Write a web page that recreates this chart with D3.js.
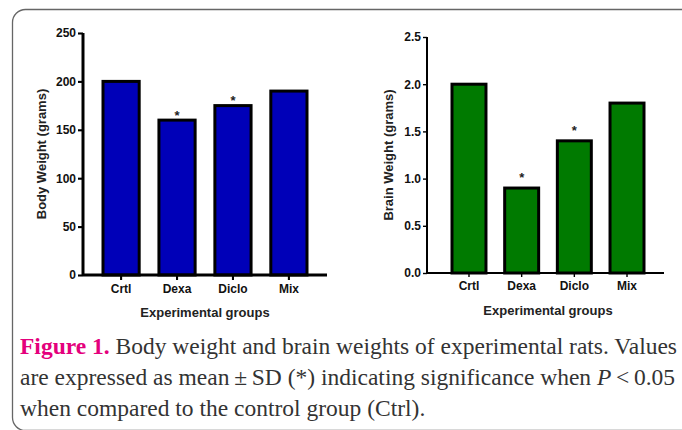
<!DOCTYPE html>
<html><head><meta charset="utf-8">
<script src="https://cdn.jsdelivr.net/npm/d3@7"></script>
<style>html,body{margin:0;padding:0;background:#fff;overflow:hidden}</style>
</head><body>
<svg id="c" width="682" height="430"></svg>
<script>
const groups = ["Crtl","Dexa","Diclo","Mix"];
const bodyWeight = [200,160,175,190];
const brainWeight = [2.0,0.9,1.4,1.8];
const bodySig = [false,true,true,false];
const brainSig = [false,true,true,false];
const bodyTicks = [0,50,100,150,200,250];
const brainTicks = [0,0.5,1.0,1.5,2.0,2.5];

const svg = d3.select("#c");
// frame
svg.append("rect").attr("x",12.5).attr("y",9.5).attr("width",700).attr("height",421)
  .attr("rx",13).attr("fill","none").attr("stroke","#666").attr("stroke-width",1.3);

function panel(o){
  const g = svg.append("g");
  const x = d3.scaleBand().domain(groups).range([o.b0,o.b1]).paddingInner(o.pad).paddingOuter(0);
  const y = d3.scaleLinear().domain([0,o.max]).range([o.y0,o.y1]);
  // bars
  g.selectAll("rect.bar").data(o.values).join("rect")
    .attr("x",(d,i)=>x(groups[i])).attr("width",x.bandwidth())
    .attr("y",d=>y(d)).attr("height",d=>y(0)-y(d))
    .attr("fill",o.fill).attr("stroke","#000").attr("stroke-width",3);
  // y axis
  const ya = g.append("g").attr("transform",`translate(${o.ax},0)`)
    .call(d3.axisLeft(y).tickValues(o.ticks).tickSize(o.tick).tickPadding(2).tickFormat(o.fmt));
  ya.select(".domain").attr("stroke-width",o.aw).attr("d",`M0,${o.y0}V${o.y1}`);
  ya.selectAll(".tick line").attr("stroke-width",o.aw*0.7);
  ya.selectAll("text").attr("font-family","Liberation Sans, Arial, sans-serif")
    .attr("font-weight","bold").attr("font-size",12).attr("fill","#111");
  // x axis
  const xa = g.append("g").attr("transform",`translate(0,${o.y0})`)
    .call(d3.axisBottom(x).tickSize(o.tick).tickPadding(4));
  xa.select(".domain").remove();
  xa.selectAll(".tick line").attr("stroke-width",o.aw*0.7);
  xa.selectAll("text").attr("font-family","Liberation Sans, Arial, sans-serif")
    .attr("font-weight","bold").attr("font-size",12).attr("fill","#111");
  g.append("line").attr("x1",o.ax).attr("x2",o.xend).attr("y1",o.y0).attr("y2",o.y0)
    .attr("stroke","#000").attr("stroke-width",o.aw);
  // asterisks
  g.selectAll("text.ast").data(o.values.map((v,i)=>({v,i})).filter(d=>o.sig[d.i])).join("text")
    .attr("x",d=>x(groups[d.i])+x.bandwidth()/2).attr("y",d=>y(d.v)-o.astOff)
    .attr("text-anchor","middle").attr("font-family","Liberation Sans, Arial, sans-serif")
    .attr("font-weight","bold").attr("font-size",13).attr("fill","#222").text("*");
  // titles
  g.append("text").attr("x",o.xt).attr("y",o.xty).attr("text-anchor","middle")
    .attr("font-family","Liberation Sans, Arial, sans-serif").attr("font-weight","bold")
    .attr("font-size",13).attr("fill","#222").text("Experimental groups");
  g.append("text").attr("transform",`translate(${o.ytx},${o.yty}) rotate(-90)`).attr("text-anchor","middle")
    .attr("font-family","Liberation Sans, Arial, sans-serif").attr("font-weight","bold")
    .attr("font-size",13).attr("fill","#222").text(o.ylab);
}

panel({values:bodyWeight,sig:bodySig,ticks:bodyTicks,max:250,fmt:d3.format("d"),
  b0:103,b1:307,pad:0.353,y0:275,y1:33,ax:83,xend:327,aw:3,tick:5,fill:"#0000b8",
  astOff:0.5,xt:205,xty:317,ytx:46,yty:154,ylab:"Body Weight (grams)"});
panel({values:brainWeight,sig:brainSig,ticks:brainTicks,max:2.5,fmt:d3.format(".1f"),
  b0:452,b1:644,pad:0.355,y0:273,y1:37,ax:427,xend:664,aw:2,tick:4,fill:"#007a00",
  astOff:6,xt:548,xty:315,ytx:393,yty:155,ylab:"Brain Weight (grams)"});

// caption
const cap = svg.append("text").attr("font-family","Liberation Serif, Times New Roman, serif")
  .attr("font-size",23.5).attr("fill","#333");
const l1 = cap.append("tspan").attr("x",20).attr("y",354);
l1.append("tspan").attr("fill","#e4007c").attr("font-weight","bold").text("Figure 1.");
l1.append("tspan").text(" Body weight and brain weights of experimental rats. Values");
const l2 = cap.append("tspan").attr("x",20).attr("y",385);
l2.append("tspan").text("are expressed as mean\u2009\u00b1\u2009SD (*) indicating significance when ");
l2.append("tspan").attr("font-style","italic").text("P");
l2.append("tspan").text("\u2009<\u20090.05");
cap.append("tspan").attr("x",20).attr("y",416).text("when compared to the control group (Ctrl).");
</script>
</body></html>
